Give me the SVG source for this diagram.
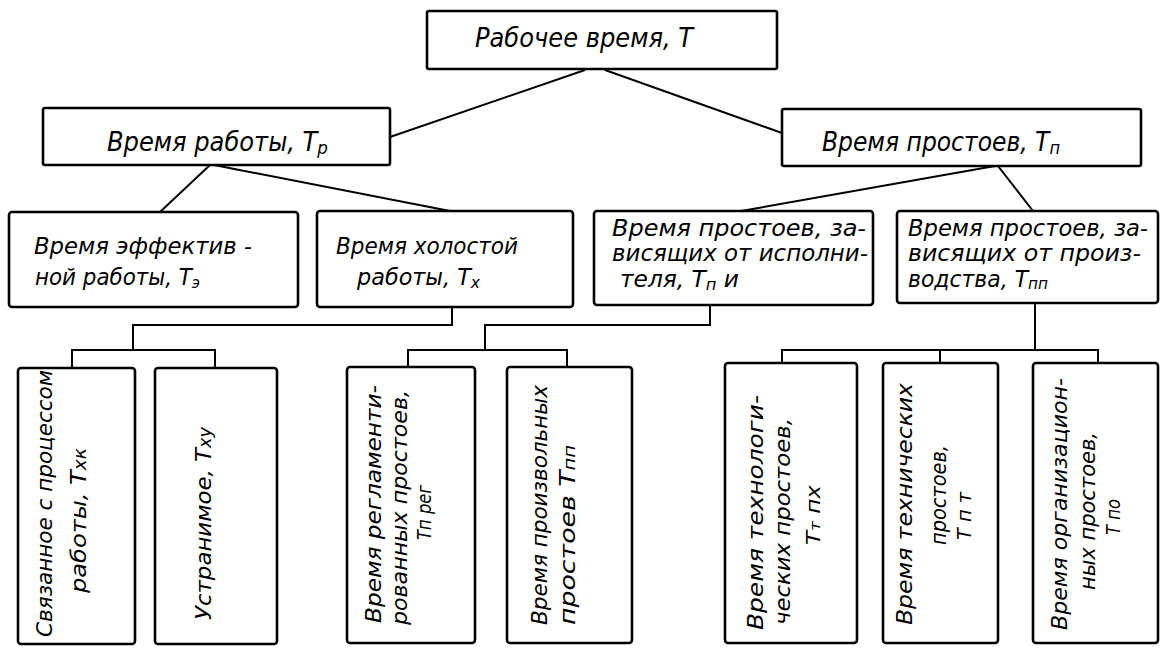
<svg xmlns="http://www.w3.org/2000/svg" width="1162" height="649" viewBox="0 0 1162 649">
<style>
.box{fill:#fff;stroke:#000;stroke-width:2.6}
.con{fill:none;stroke:#000;stroke-width:2}
text{font-family:"DejaVu Sans Condensed","DejaVu Sans","Liberation Sans",sans-serif;font-style:italic;fill:#000}
.t1{font-size:27px}
.t2{font-size:26px}
.t3{font-size:23px}
.t4{font-size:22px}
.t5{font-size:19px}
</style>
<rect width="1162" height="649" fill="#fff"/>
<g id="connectors">
<line class="con" x1="585" y1="70" x2="390" y2="137"/>
<line class="con" x1="605" y1="70" x2="782" y2="133"/>
<line class="con" x1="210" y1="165" x2="160" y2="212"/>
<line class="con" x1="214" y1="165" x2="450" y2="211"/>
<line class="con" x1="995" y1="166" x2="741" y2="211"/>
<line class="con" x1="998" y1="166" x2="1033" y2="211"/>
<polyline class="con" points="452,307 452,325 133,325 133,350"/>
<polyline class="con" points="72,368 72,350 215,350 215,368"/>
<polyline class="con" points="710,305 710,325 485,325 485,350"/>
<polyline class="con" points="408,367 408,350 567,350 567,367"/>
<line class="con" x1="1035" y1="303" x2="1035" y2="350"/>
<polyline class="con" points="782,363 782,350 1098,350 1098,363"/>
<line class="con" x1="940" y1="350" x2="940" y2="363"/>
</g>
<g id="n-top">
<rect class="box" x="427" y="11" width="350" height="58" rx="2"/>
<text class="t1" x="475" y="47" textLength="218" lengthAdjust="spacingAndGlyphs">Рабочее время, Т</text>
</g>
<g id="n-rabota">
<rect class="box" x="43" y="108" width="347" height="57" rx="2"/>
<text class="t2" x="107" y="151" textLength="221" lengthAdjust="spacingAndGlyphs">Время работы, Т<tspan font-size="18" dy="3">р</tspan></text>
</g>
<g id="n-prostoi">
<rect class="box" x="782" y="109" width="359" height="57" rx="2"/>
<text class="t2" x="822" y="151" textLength="238" lengthAdjust="spacingAndGlyphs">Время простоев, Т<tspan font-size="18" dy="3">п</tspan></text>
</g>
<g id="n-effekt">
<rect class="box" x="9" y="212" width="289" height="95" rx="3"/>
<text class="t3" x="34" y="254" textLength="218" lengthAdjust="spacingAndGlyphs">Время эффектив -</text>
<text class="t3" x="35" y="285" textLength="165" lengthAdjust="spacingAndGlyphs">ной работы, Т<tspan font-size="16" dy="3">э</tspan></text>
</g>
<g id="n-holost">
<rect class="box" x="317" y="211" width="256" height="96" rx="3"/>
<text class="t3" x="336" y="254" textLength="182" lengthAdjust="spacingAndGlyphs">Время холостой</text>
<text class="t3" x="357" y="285" textLength="123" lengthAdjust="spacingAndGlyphs">работы, Т<tspan font-size="16" dy="3">х</tspan></text>
</g>
<g id="n-ispoln">
<rect class="box" x="594" y="211" width="279" height="94" rx="3"/>
<text class="t3" x="612" y="236" textLength="254" lengthAdjust="spacingAndGlyphs">Время простоев, за-</text>
<text class="t3" x="612" y="261" textLength="256" lengthAdjust="spacingAndGlyphs">висящих от исполни-</text>
<text class="t3" x="620" y="287" textLength="119" lengthAdjust="spacingAndGlyphs">теля, Т<tspan font-size="16" dy="3">п</tspan><tspan dy="-3"> и</tspan></text>
</g>
<g id="n-proizv">
<rect class="box" x="897" y="211" width="261" height="92" rx="3"/>
<text class="t3" x="908" y="236" textLength="240" lengthAdjust="spacingAndGlyphs">Время простоев, за-</text>
<text class="t3" x="908" y="261" textLength="233" lengthAdjust="spacingAndGlyphs">висящих от произ-</text>
<text class="t3" x="908" y="287" textLength="140" lengthAdjust="spacingAndGlyphs">водства, Т<tspan font-size="16" dy="2">пп</tspan></text>
</g>
<g id="n-svyaz">
<rect class="box" x="18" y="368" width="117" height="276" rx="3"/>
<text class="t4" transform="translate(52,637) rotate(-90)" textLength="267" lengthAdjust="spacingAndGlyphs">Связанное с процессом</text>
<text class="t4" transform="translate(86,593) rotate(-90)" textLength="145" lengthAdjust="spacingAndGlyphs">работы, Т<tspan font-size="17">хк</tspan></text>
</g>
<g id="n-ustran">
<rect class="box" x="155" y="368" width="122" height="276" rx="3"/>
<text class="t4" transform="translate(211,620) rotate(-90)" textLength="193" lengthAdjust="spacingAndGlyphs">Устранимое, Т<tspan font-size="17">ху</tspan></text>
</g>
<g id="n-reglam">
<rect class="box" x="347" y="367" width="128" height="276" rx="3"/>
<text class="t4" transform="translate(381,623) rotate(-90)" textLength="238" lengthAdjust="spacingAndGlyphs">Время регламенти-</text>
<text class="t4" transform="translate(407,625) rotate(-90)" textLength="235" lengthAdjust="spacingAndGlyphs">рованных простоев,</text>
<text class="t5" transform="translate(431,540) rotate(-90)" textLength="55" lengthAdjust="spacingAndGlyphs">Тп рег</text>
</g>
<g id="n-proizvol">
<rect class="box" x="507" y="367" width="125" height="276" rx="3"/>
<text class="t4" transform="translate(547,625) rotate(-90)" textLength="240" lengthAdjust="spacingAndGlyphs">Время произвольных</text>
<text class="t4" transform="translate(575,625) rotate(-90)" textLength="180" lengthAdjust="spacingAndGlyphs">простоев Т<tspan font-size="16">пп</tspan></text>
</g>
<g id="n-tehnolog">
<rect class="box" x="725" y="363" width="132" height="280" rx="3"/>
<text class="t4" transform="translate(763,630) rotate(-90)" textLength="235" lengthAdjust="spacingAndGlyphs">Время технологи-</text>
<text class="t4" transform="translate(790,625) rotate(-90)" textLength="207" lengthAdjust="spacingAndGlyphs">ческих простоев,</text>
<text class="t5" transform="translate(820,545) rotate(-90)" textLength="60" lengthAdjust="spacingAndGlyphs">Т<tspan font-size="14">т</tspan> пх</text>
</g>
<g id="n-tehnich">
<rect class="box" x="883" y="363" width="115" height="280" rx="3"/>
<text class="t4" transform="translate(912,625) rotate(-90)" textLength="242" lengthAdjust="spacingAndGlyphs">Время технических</text>
<text class="t4" transform="translate(946,545) rotate(-90)" textLength="100" lengthAdjust="spacingAndGlyphs">простоев,</text>
<text class="t5" transform="translate(971,540) rotate(-90)" textLength="48" lengthAdjust="spacingAndGlyphs">Т п т</text>
</g>
<g id="n-organiz">
<rect class="box" x="1033" y="363" width="125" height="280" rx="3"/>
<text class="t4" transform="translate(1067,630) rotate(-90)" textLength="252" lengthAdjust="spacingAndGlyphs">Время организацион-</text>
<text class="t4" transform="translate(1095,590) rotate(-90)" textLength="158" lengthAdjust="spacingAndGlyphs">ных простоев,</text>
<text class="t5" transform="translate(1120,535) rotate(-90)" textLength="36" lengthAdjust="spacingAndGlyphs">Т по</text>
</g>
</svg>
